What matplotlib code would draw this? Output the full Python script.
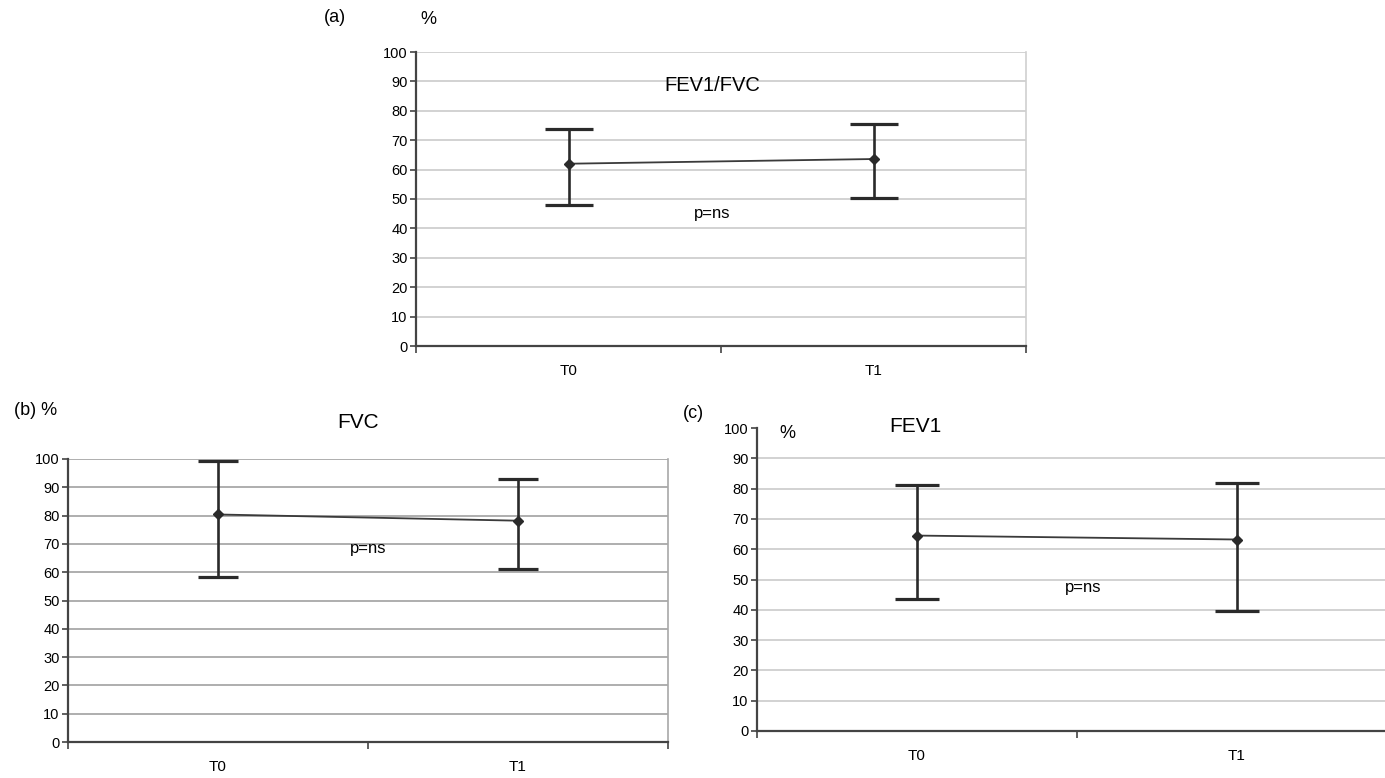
import matplotlib.pyplot as plt
import numpy as np

plt.rcParams['font.family'] = ['Liberation Sans', 'DejaVu Sans']

momentos = ["T0", "T1"]

# FEV1/FVC
fev1fvc_media = [62, 63.6]
fev1fvc_sup = [73.8, 75.6]
fev1fvc_inf = [48, 50.3]

# FVC
fvc_media = [80.4, 78.2]
fvc_sup = [99.3, 92.8]
fvc_inf = [58.3, 61]

# FEV1
fev1_media = [64.5, 63.2]
fev1_sup = [81.3, 81.8]
fev1_inf = [43.6, 39.5]

W, H = 1385, 778
fig = plt.figure(figsize=(W / 100, H / 100), dpi=100)


def caja(x0, y0, x1, y1):
    # pixeles -> fraccion de figura
    return [x0 / W, 1 - y1 / H, (x1 - x0) / W, (y1 - y0) / H]


def panel(rect, media, sup, inf, grid_color, grid_100=True, cap=11):
    ax = fig.add_axes(rect)
    x = np.array([0.5, 1.5])
    media = np.array(media)
    err = [media - np.array(inf), np.array(sup) - media]
    ax.plot(x, media, color='#3a3a3a', lw=1.3, zorder=3)
    ax.errorbar(x, media, yerr=err, fmt='D', ms=5, color='#2a2a2a',
                ecolor='#2a2a2a', elinewidth=1.9, capsize=cap, capthick=2.3, zorder=4)
    ax.set_xlim(0, 2)
    ax.set_ylim(0, 100)
    ax.set_yticks(range(0, 101, 10))
    for v in range(10, 101, 10):
        if v == 100 and not grid_100:
            continue
        ax.axhline(v, color=grid_color, lw=1.3, zorder=1)
    ax.set_xticks([0, 1, 2])
    ax.set_xticklabels([])
    ax.set_xticks(x, minor=True)
    ax.set_xticklabels(momentos, minor=True, fontsize=11)
    ax.tick_params(axis='x', which='minor', length=0, pad=13)
    ax.tick_params(axis='x', which='major', length=5, width=1.2, color='#444')
    ax.tick_params(axis='y', labelsize=10.5, length=4, width=1.2, color='#444', pad=2)
    ax.spines['top'].set_visible(False)
    ax.spines['left'].set_color('#444')
    ax.spines['bottom'].set_color('#444')
    ax.spines['left'].set_linewidth(1.6)
    ax.spines['bottom'].set_linewidth(1.6)
    ax.spines['right'].set_color(grid_color)
    ax.spines['right'].set_linewidth(1.2)
    return ax


ax_a = panel(caja(416, 52, 1026, 346), fev1fvc_media, fev1fvc_sup, fev1fvc_inf, '#cfcfcf', cap=17)
ax_b = panel(caja(68, 459, 668, 742), fvc_media, fvc_sup, fvc_inf, '#a8a8a8', cap=14.5)
ax_c = panel(caja(757, 428, 1397, 731), fev1_media, fev1_sup, fev1_inf, '#cfcfcf', grid_100=False, cap=16)

ax_a.text(0.97, 88.5, "FEV1/FVC", fontsize=14.5, ha='center', va='center')
ax_a.text(0.97, 45, "p=ns", fontsize=12, ha='center', va='center')
ax_b.text(1.0, 68.5, "p=ns", fontsize=12, ha='center', va='center')
ax_c.text(1.02, 47.5, "p=ns", fontsize=12, ha='center', va='center')

fig.text(335 / W, 1 - 18 / H, "(a)", fontsize=13, ha='center', va='center')
fig.text(428 / W, 1 - 20 / H, "%", fontsize=13, ha='center', va='center')
fig.text(36 / W, 1 - 411 / H, "(b) %", fontsize=13, ha='center', va='center')
fig.text(358 / W, 1 - 423 / H, "FVC", fontsize=15, ha='center', va='center')
fig.text(693 / W, 1 - 413 / H, "(c)", fontsize=13, ha='center', va='center')
fig.text(787 / W, 1 - 433 / H, "%", fontsize=13, ha='center', va='center')
fig.text(915 / W, 1 - 426 / H, "FEV1", fontsize=15, ha='center', va='center')

fig.savefig("out.png", dpi=100)
